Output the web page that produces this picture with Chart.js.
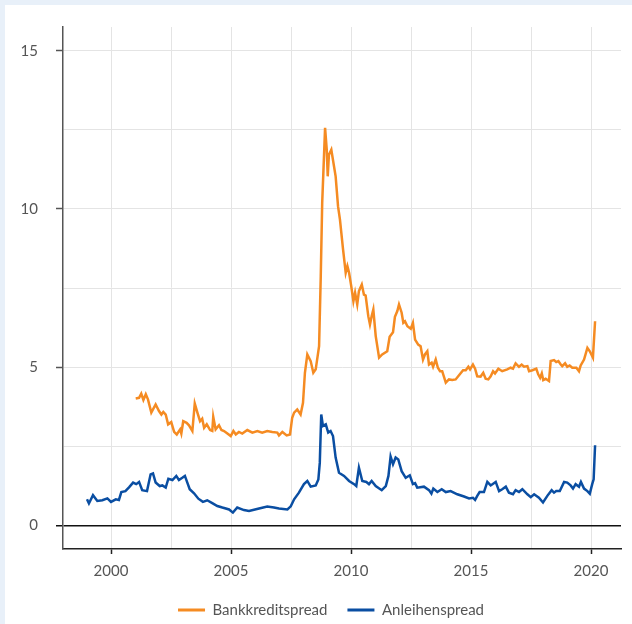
<!DOCTYPE html>
<html>
<head>
<meta charset="utf-8">
<script src="https://cdn.jsdelivr.net/npm/chart.js@4.4.1/dist/chart.umd.min.js"></script>
<style>
    html, body { margin: 0; padding: 0; background: #e8f0f9; }
    #panel { position: absolute; left: 5px; top: 5px; width: 627px; height: 619px; background: #ffffff; }
    #chart { display: block; }
</style>
</head>
<body>
<div id="panel"><canvas id="chart" width="627" height="619"></canvas></div>
<script>
// Series labels
const seriesNames = ['Bankkreditspread', 'Anleihenspread'];

// Bankkreditspread (decimal year, percentage points)
const bankYears = [
    2001.03, 2001.17, 2001.26, 2001.35, 2001.45, 2001.54, 2001.68, 2001.86, 2002.00, 2002.10,
    2002.18, 2002.28, 2002.38, 2002.51, 2002.63, 2002.74, 2002.88, 2002.93, 2003.01, 2003.15,
    2003.25, 2003.39, 2003.49, 2003.60, 2003.71, 2003.80, 2003.88, 2003.99, 2004.13, 2004.22,
    2004.26, 2004.36, 2004.50, 2004.60, 2004.71, 2004.85, 2004.99, 2005.10, 2005.20, 2005.33,
    2005.47, 2005.68, 2005.89, 2006.10, 2006.30, 2006.51, 2006.72, 2006.93, 2007.00, 2007.14,
    2007.32, 2007.46, 2007.55, 2007.63, 2007.76, 2007.90, 2008.00, 2008.08, 2008.18, 2008.32,
    2008.43, 2008.53, 2008.67, 2008.74, 2008.80, 2008.92, 2008.99, 2009.03, 2009.08, 2009.18,
    2009.36, 2009.46, 2009.54, 2009.67, 2009.78, 2009.85, 2009.92, 2010.01, 2010.10, 2010.17,
    2010.26, 2010.33, 2010.45, 2010.54, 2010.61, 2010.72, 2010.79, 2010.86, 2010.93, 2011.03,
    2011.17, 2011.30, 2011.51, 2011.61, 2011.75, 2011.83, 2011.93, 2012.00, 2012.11, 2012.18,
    2012.25, 2012.35, 2012.49, 2012.58, 2012.67, 2012.80, 2012.90, 2013.00, 2013.08, 2013.18,
    2013.25, 2013.36, 2013.42, 2013.53, 2013.62, 2013.71, 2013.80, 2013.95, 2014.08, 2014.22,
    2014.36, 2014.50, 2014.67, 2014.78, 2014.89, 2014.96, 2015.08, 2015.17, 2015.26, 2015.40,
    2015.51, 2015.61, 2015.72, 2015.82, 2015.92, 2016.00, 2016.14, 2016.30, 2016.51, 2016.65,
    2016.75, 2016.86, 2017.00, 2017.11, 2017.21, 2017.35, 2017.42, 2017.56, 2017.72, 2017.80,
    2017.88, 2017.95, 2018.01, 2018.11, 2018.25, 2018.32, 2018.46, 2018.55, 2018.64, 2018.74,
    2018.80, 2018.92, 2019.01, 2019.11, 2019.22, 2019.39, 2019.50, 2019.57, 2019.71, 2019.85,
    2019.95, 2020.08, 2020.17
];
const bankValues = [
    4.01, 4.03, 4.16, 3.96, 4.14, 3.98, 3.56, 3.82, 3.61, 3.50,
    3.58, 3.50, 3.19, 3.26, 2.95, 2.87, 3.03, 2.90, 3.29, 3.24,
    3.16, 2.98, 3.85, 3.56, 3.29, 3.37, 3.08, 3.19, 3.01, 2.98,
    3.43, 3.03, 3.16, 3.01, 2.98, 2.90, 2.82, 2.98, 2.87, 2.95,
    2.90, 3.01, 2.93, 2.98, 2.93, 2.98, 2.95, 2.93, 2.84, 2.95,
    2.84, 2.87, 3.40, 3.56, 3.66, 3.50, 3.87, 4.82, 5.40, 5.19,
    4.82, 4.93, 5.66, 7.87, 10.19, 12.56, 11.87, 11.03, 11.71, 11.87,
    11.03, 10.08, 9.66, 8.71, 7.98, 8.19, 7.98, 7.56, 7.08, 7.35,
    6.98, 7.40, 7.61, 7.29, 7.26, 6.61, 6.35, 6.61, 6.82, 5.98,
    5.30, 5.40, 5.50, 5.96, 6.10, 6.59, 6.77, 6.98, 6.72, 6.40,
    6.45, 6.29, 6.21, 6.40, 5.87, 5.71, 5.66, 5.24, 5.40, 5.50,
    5.08, 5.14, 5.01, 5.24, 4.98, 4.87, 4.87, 4.51, 4.61, 4.59,
    4.61, 4.74, 4.90, 4.90, 5.01, 4.93, 5.08, 4.95, 4.71, 4.70,
    4.82, 4.63, 4.61, 4.71, 4.87, 4.80, 4.95, 4.87, 4.93, 4.98,
    4.95, 5.12, 5.01, 5.08, 5.01, 5.03, 4.87, 4.90, 4.95, 4.77,
    4.66, 4.80, 4.59, 4.63, 4.56, 5.19, 5.22, 5.16, 5.19, 5.08,
    5.03, 5.12, 5.01, 5.05, 4.98, 4.98, 4.87, 5.05, 5.24, 5.61,
    5.50, 5.30, 6.45
];

// Anleihenspread (decimal year, percentage points)
const bondYears = [
    1999.00, 1999.08, 1999.25, 1999.43, 1999.64, 1999.85, 2000.00, 2000.20, 2000.33, 2000.43,
    2000.60, 2000.75, 2000.92, 2001.05, 2001.17, 2001.30, 2001.50, 2001.65, 2001.75, 2001.86,
    2002.03, 2002.14, 2002.28, 2002.39, 2002.56, 2002.72, 2002.83, 2002.97, 2003.08, 2003.18,
    2003.28, 2003.46, 2003.64, 2003.83, 2004.01, 2004.22, 2004.43, 2004.64, 2004.92, 2005.08,
    2005.26, 2005.54, 2005.75, 2006.17, 2006.51, 2006.79, 2007.00, 2007.35, 2007.49, 2007.63,
    2007.83, 2008.04, 2008.18, 2008.32, 2008.53, 2008.64, 2008.70, 2008.76, 2008.83, 2008.95,
    2009.05, 2009.15, 2009.25, 2009.36, 2009.50, 2009.71, 2009.92, 2010.13, 2010.22, 2010.33,
    2010.47, 2010.64, 2010.75, 2010.86, 2011.03, 2011.28, 2011.45, 2011.56, 2011.65, 2011.75,
    2011.86, 2011.97, 2012.11, 2012.28, 2012.45, 2012.58, 2012.67, 2012.76, 2013.04, 2013.25,
    2013.35, 2013.43, 2013.60, 2013.78, 2013.95, 2014.15, 2014.43, 2014.71, 2014.92, 2015.08,
    2015.17, 2015.26, 2015.36, 2015.54, 2015.68, 2015.82, 2016.03, 2016.17, 2016.30, 2016.45,
    2016.58, 2016.75, 2016.86, 2017.00, 2017.14, 2017.35, 2017.49, 2017.63, 2017.83, 2018.00,
    2018.18, 2018.36, 2018.46, 2018.55, 2018.70, 2018.88, 2019.01, 2019.15, 2019.25, 2019.36,
    2019.50, 2019.58, 2019.71, 2019.85, 2019.95, 2020.05, 2020.11, 2020.17
];
const bondValues = [
    0.82, 0.69, 0.95, 0.77, 0.79, 0.85, 0.74, 0.82, 0.80, 1.05,
    1.08, 1.20, 1.35, 1.30, 1.37, 1.11, 1.08, 1.61, 1.64, 1.35,
    1.24, 1.26, 1.19, 1.47, 1.43, 1.56, 1.43, 1.50, 1.56, 1.35,
    1.14, 1.01, 0.84, 0.74, 0.79, 0.70, 0.61, 0.56, 0.50, 0.40,
    0.56, 0.48, 0.45, 0.53, 0.59, 0.56, 0.53, 0.50, 0.60, 0.82,
    1.03, 1.30, 1.40, 1.22, 1.26, 1.45, 1.98, 3.50, 3.14, 3.19,
    2.93, 2.98, 2.82, 2.14, 1.66, 1.56, 1.40, 1.30, 1.24, 1.82,
    1.40, 1.37, 1.30, 1.40, 1.24, 1.11, 1.24, 1.56, 2.17, 1.93,
    2.14, 2.08, 1.71, 1.50, 1.58, 1.30, 1.33, 1.19, 1.22, 1.11,
    1.00, 1.16, 1.05, 1.14, 1.05, 1.08, 0.98, 0.91, 0.85, 0.87,
    0.80, 0.93, 1.05, 1.05, 1.37, 1.26, 1.37, 1.08, 1.14, 1.22,
    1.03, 0.98, 1.11, 1.05, 1.14, 0.98, 0.89, 0.98, 0.87, 0.72,
    0.93, 1.11, 1.03, 1.08, 1.08, 1.37, 1.35, 1.26, 1.16, 1.30,
    1.22, 1.37, 1.16, 1.08, 1.00, 1.30, 1.45, 2.53
];

// Axis ticks
const xTicks = [2000, 2002.5, 2005, 2007.5, 2010, 2012.5, 2015, 2017.5, 2020];
const yTicks = [0, 2.5, 5, 7.5, 10, 12.5, 15];

const colors = ['#f58b22', '#0a4ea2'];

const toPoints = (xs, ys) => xs.map((x, i) => ({ x: x, y: ys[i] }));
const isMajor = (v) => Math.abs(v % 5) < 1e-9;

// Move the legend: a bit right of centre, and lower than Chart.js puts it
const legendShift = {
    id: 'legendShift',
    afterLayout(chart) {
        const lg = chart.legend;
        if (!lg) return;
        lg.left += 18;
        lg.right += 18;
        lg.top = 577.5;
        lg.bottom = lg.top + 45;
    }
};

Chart.defaults.font.family = 'Lato, "Open Sans", sans-serif';
Chart.defaults.color = '#555555';

new Chart(document.getElementById('chart'), {
    type: 'line',
    data: {
        datasets: [
            {
                label: seriesNames[0],
                data: toPoints(bankYears, bankValues),
                borderColor: colors[0],
                backgroundColor: colors[0],
                borderWidth: 2.5,
                pointRadius: 0,
                tension: 0
            },
            {
                label: seriesNames[1],
                data: toPoints(bondYears, bondValues),
                borderColor: colors[1],
                backgroundColor: colors[1],
                borderWidth: 2.5,
                pointRadius: 0,
                tension: 0
            }
        ]
    },
    plugins: [legendShift],
    options: {
        responsive: false,
        animation: false,
        layout: { padding: { left: 0, right: 11, top: 22, bottom: 0 } },
        plugins: {
            tooltip: { enabled: false },
            legend: {
                position: 'bottom',
                maxHeight: 30,
                labels: {
                    boxWidth: 27,
                    boxHeight: 3,
                    padding: 20,
                    font: { size: 15 },
                    color: '#555555',
                    generateLabels: (chart) => {
                        const items = Chart.defaults.plugins.legend.labels.generateLabels(chart);
                        items.forEach(it => { it.lineWidth = 0; });
                        return items;
                    }
                }
            }
        },
        scales: {
            x: {
                type: 'linear',
                min: 1998,
                max: 2021.25,
                afterBuildTicks: (scale) => { scale.ticks = xTicks.map(v => ({ value: v })); },
                afterFit: (scale) => { scale.height = 45; },
                ticks: {
                    padding: 8,
                    font: { size: 15 },
                    color: '#555555',
                    callback: (v) => isMajor(v) ? String(v) : ''
                },
                grid: {
                    color: '#e4e4e4',
                    lineWidth: 1,
                    tickLength: 5,
                    tickColor: (ctx) => (ctx.tick && isMajor(ctx.tick.value)) ? '#222222' : 'rgba(0,0,0,0)',
                    tickWidth: 1.5
                },
                border: { display: true, color: '#222222', width: 1.5 }
            },
            y: {
                type: 'linear',
                min: -0.75,
                max: 15.75,
                afterBuildTicks: (scale) => { scale.ticks = yTicks.map(v => ({ value: v })); },
                afterFit: (scale) => {
                    scale.width = 58;
                    scale.paddingTop = 0;
                    scale.paddingBottom = 0;
                },
                ticks: {
                    padding: 18,
                    font: { size: 15 },
                    color: '#555555',
                    callback: (v) => isMajor(v) ? String(v) : ''
                },
                grid: {
                    color: (ctx) => (ctx.tick && ctx.tick.value === 0) ? '#111111' : '#e4e4e4',
                    lineWidth: (ctx) => (ctx.tick && ctx.tick.value === 0) ? 1.5 : 1,
                    tickLength: 7,
                    tickColor: (ctx) => (ctx.tick && isMajor(ctx.tick.value)) ? (ctx.tick.value === 0 ? '#111111' : '#555555') : 'rgba(0,0,0,0)',
                    tickWidth: 1.5
                },
                border: { display: true, color: '#555555', width: 1.5 }
            }
        }
    }
});
</script>
</body>
</html>
